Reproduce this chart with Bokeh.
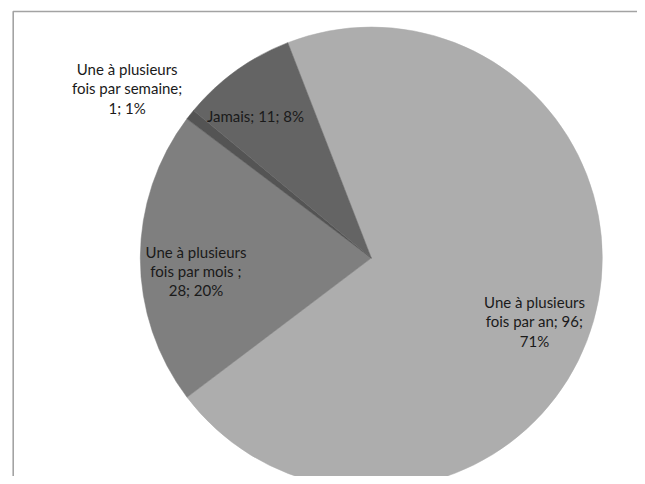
import math
from bokeh.plotting import figure
from bokeh.models import Range1d, ColumnDataSource
from bokeh.core.properties import value
from bokeh.embed import file_html
from bokeh.resources import INLINE

# ---- data (clockwise order, starting at the top-left boundary) ----
categories = ["Une à plusieurs fois par an", "Une à plusieurs fois par mois ",
              "Une à plusieurs fois par semaine", "Jamais"]
counts = [96, 28, 1, 11]
percents = [71, 20, 1, 8]
label_lines = [
    ["Une à plusieurs", "fois par an; 96;", "71%"],
    ["Une à plusieurs", "fois par mois ;", "28; 20%"],
    ["Une à plusieurs", "fois par semaine;", "1; 1%"],
    ["Jamais; 11; 8%"],
]

# ---- layout / style (reference pixel coordinates) ----
W, H = 637, 476
slice_colors = ["#adadad", "#7f7f7f", "#545454", "#646464"]
cx, cy, R = 370.8, H - 257.5, 231.0
start_offset = -21.2  # degrees clockwise from 12 o'clock
label_pos = [(534, H - 321), (195.5, H - 270.5), (126.7, H - 88), (255, H - 115)]

total = sum(counts)
starts, ends = [], []
acc = start_offset
for c in counts:
    a0 = acc
    a1 = acc + 360.0 * c / total
    starts.append(math.radians(90 - a0))
    ends.append(math.radians(90 - a1))
    acc = a1

src = ColumnDataSource(dict(cat=categories, count=counts, start=starts, end=ends,
                            color=slice_colors))

p = figure(width=W, height=H, output_backend="svg", toolbar_location=None,
           x_range=Range1d(0, W), y_range=Range1d(0, H), min_border=0)
p.axis.visible = False
p.grid.visible = False
p.outline_line_color = None
p.background_fill_color = "white"
p.border_fill_color = "white"

# chart frame
p.quad(left=[12.7], right=[643.5], top=[H - 11], bottom=[-20],
       fill_color=None, line_color="#a3a3a3", line_width=1.6)

p.wedge(x=cx, y=cy, radius=R, radius_units="data", start_angle="start",
        end_angle="end", direction="clock", fill_color="color",
        line_color="color", line_width=0.5, source=src)

lx = [q[0] for q in label_pos]
ly = [q[1] for q in label_pos]
txt = ["\n".join(l) for l in label_lines]
p.text(x=lx, y=ly, text=txt, text_align="center", text_baseline="middle",
       text_font=value("Lato"), text_font_size="15px", text_color="#1a1a1a",
       text_line_height=1.08)

open("out.html", "w").write(file_html(p, INLINE))
